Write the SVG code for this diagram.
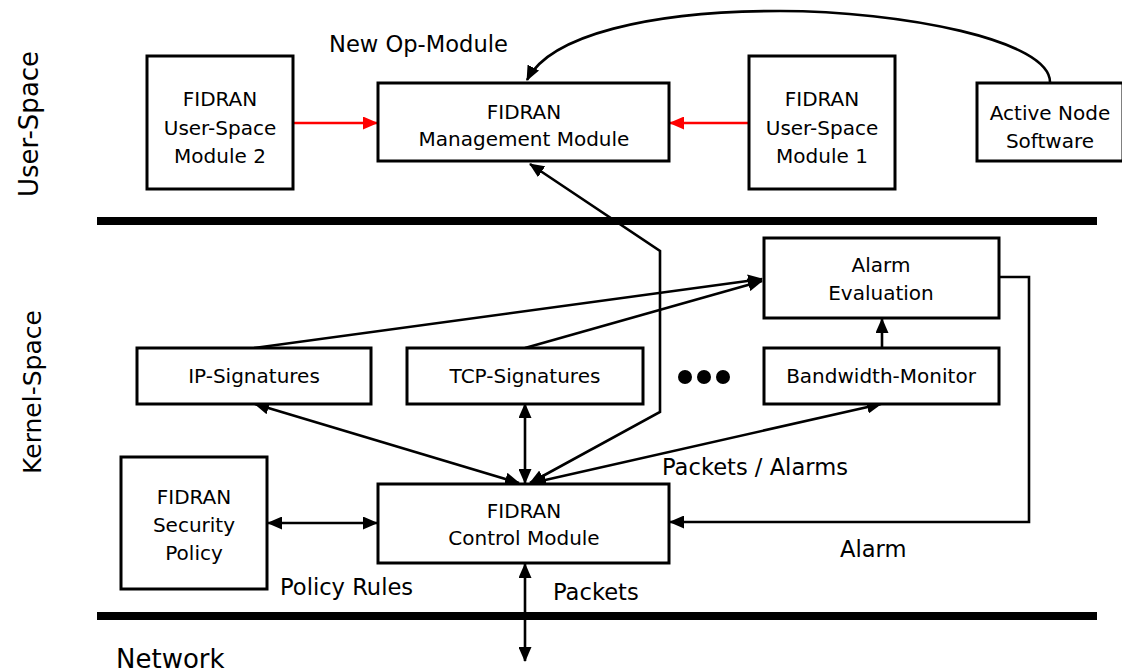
<svg xmlns="http://www.w3.org/2000/svg" width="1122" height="672" viewBox="0 0 1122 672">
  <style>
    .box { fill: #ffffff; stroke: #000000; stroke-width: 3; }
    .lbl { font-family: "DejaVu Sans", Verdana, sans-serif; font-size: 20px; fill: #000000; text-anchor: middle; }
    .free { font-family: "DejaVu Sans", Verdana, sans-serif; font-size: 22.6px; fill: #000000; }
    .side { font-family: "DejaVu Sans", Verdana, sans-serif; font-size: 26px; fill: #000000; text-anchor: middle; }
    .wire { fill: none; stroke: #000000; stroke-width: 2.6; }
    .red { fill: none; stroke: #ff0000; stroke-width: 2.6; }
    .bar { fill: #000000; }
  </style>
  <defs>
    <marker id="arrow" viewBox="0 0 15 13" markerWidth="15" markerHeight="13" refX="14" refY="6.5" orient="auto-start-reverse" markerUnits="userSpaceOnUse">
      <path d="M0,0 L15,6.5 L0,13 z" fill="#000000"/>
    </marker>
    <marker id="arrowRed" viewBox="0 0 15 13" markerWidth="15" markerHeight="13" refX="14" refY="6.5" orient="auto" markerUnits="userSpaceOnUse">
      <path d="M0,0 L15,6.5 L0,13 z" fill="#ff0000"/>
    </marker>
  </defs>

  <!-- layer labels -->
  <text class="side" transform="translate(38,124) rotate(-90)">User-Space</text>
  <text class="side" transform="translate(41,392) rotate(-90)" style="font-size:25px">Kernel-Space</text>
  <text class="free" x="116" y="668" style="font-size:26px">Network</text>

  <!-- layer boundaries -->
  <rect class="bar" x="97" y="217" width="1000" height="8"/>
  <rect class="bar" x="97" y="612" width="1000" height="8"/>

  <!-- connectors -->
  <g id="connectors">
    <path class="wire" d="M1050,83 C1052,40 900,11 780,11 C650,11 550,35 527,80" marker-end="url(#arrow)"/>
    <path class="red" d="M293,123 L377,123" marker-end="url(#arrowRed)"/>
    <path class="red" d="M749,123 L670,123" marker-end="url(#arrowRed)"/>
    <path class="wire" d="M530,164 L660,251 L660,412 L530,483" marker-start="url(#arrow)" marker-end="url(#arrow)"/>
    <path class="wire" d="M255,404 L519,483" marker-start="url(#arrow)" marker-end="url(#arrow)"/>
    <path class="wire" d="M525,404 L525,483" marker-start="url(#arrow)" marker-end="url(#arrow)"/>
    <path class="wire" d="M881,404 L532,483" marker-start="url(#arrow)" marker-end="url(#arrow)"/>
    <path class="wire" d="M254,348 L762,279" marker-end="url(#arrow)"/>
    <path class="wire" d="M525,348 L762,281" marker-end="url(#arrow)"/>
    <path class="wire" d="M882,348 L882,319" marker-end="url(#arrow)"/>
    <path class="wire" d="M999,277 L1029,277 L1029,522 L670,522" marker-end="url(#arrow)"/>
    <path class="wire" d="M268,523 L377,523" marker-start="url(#arrow)" marker-end="url(#arrow)"/>
    <path class="wire" d="M525,564 L525,661" marker-start="url(#arrow)" marker-end="url(#arrow)"/>
  </g>

  <!-- connector labels -->
  <text class="free" x="329" y="52">New Op-Module</text>
  <text class="free" x="662" y="475">Packets / Alarms</text>
  <text class="free" x="840" y="557">Alarm</text>
  <text class="free" x="280" y="595">Policy Rules</text>
  <text class="free" x="553" y="600">Packets</text>

  <!-- nodes -->
  <g id="usm2">
    <rect class="box" x="147" y="56" width="146" height="133"/>
    <text class="lbl" x="220" y="106">FIDRAN</text>
    <text class="lbl" x="220" y="135">User-Space</text>
    <text class="lbl" x="220" y="163">Module 2</text>
  </g>
  <g id="mgmt">
    <rect class="box" x="378" y="83" width="291" height="78"/>
    <text class="lbl" x="524" y="119">FIDRAN</text>
    <text class="lbl" x="524" y="146">Management Module</text>
  </g>
  <g id="usm1">
    <rect class="box" x="749" y="56" width="146" height="133"/>
    <text class="lbl" x="822" y="106">FIDRAN</text>
    <text class="lbl" x="822" y="135">User-Space</text>
    <text class="lbl" x="822" y="163">Module 1</text>
  </g>
  <g id="active-node">
    <rect class="box" x="977" y="83" width="146" height="78"/>
    <text class="lbl" x="1050" y="120">Active Node</text>
    <text class="lbl" x="1050" y="148">Software</text>
  </g>
  <g id="alarm-eval">
    <rect class="box" x="764" y="238" width="235" height="80"/>
    <text class="lbl" x="881" y="272">Alarm</text>
    <text class="lbl" x="881" y="300">Evaluation</text>
  </g>
  <g id="ip-sig">
    <rect class="box" x="137" y="348" width="234" height="56"/>
    <text class="lbl" x="254" y="383">IP-Signatures</text>
  </g>
  <g id="tcp-sig">
    <rect class="box" x="407" y="348" width="236" height="56"/>
    <text class="lbl" x="525" y="383">TCP-Signatures</text>
  </g>
  <g id="more">
    <circle cx="685" cy="377" r="7"/>
    <circle cx="704" cy="377" r="7"/>
    <circle cx="723" cy="377" r="7"/>
  </g>
  <g id="bw-mon">
    <rect class="box" x="764" y="348" width="235" height="56"/>
    <text class="lbl" x="881" y="383">Bandwidth-Monitor</text>
  </g>
  <g id="policy">
    <rect class="box" x="121" y="457" width="146" height="132"/>
    <text class="lbl" x="194" y="504">FIDRAN</text>
    <text class="lbl" x="194" y="532">Security</text>
    <text class="lbl" x="194" y="560">Policy</text>
  </g>
  <g id="control">
    <rect class="box" x="378" y="484" width="291" height="79"/>
    <text class="lbl" x="524" y="518">FIDRAN</text>
    <text class="lbl" x="524" y="545">Control Module</text>
  </g>
</svg>
